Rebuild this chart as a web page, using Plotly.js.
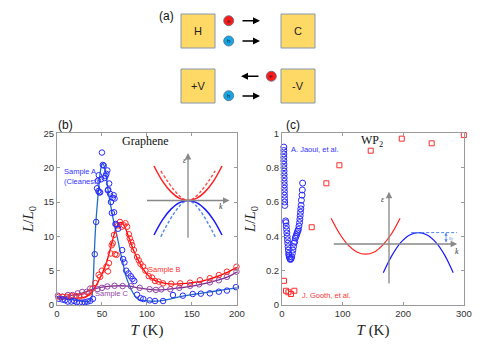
<!DOCTYPE html>
<html>
<head>
<meta charset="utf-8">
<script src="https://cdn.plot.ly/plotly-3.0.1.min.js"></script>
<style>html,body{margin:0;padding:0;background:#fff}#fig{width:491px;height:347px}</style>
</head>
<body>
<div id="fig"></div>
<script>
// (b) graphene: L/L0 vs T, three samples (markers) + fitted curves
const sampleA_T = [2, 6, 9, 12, 16, 19, 22, 25, 28, 31, 34, 37, 40, 42, 43.5, 44.5, 45.5, 46, 46.5, 47, 48, 49, 50, 51, 52, 53, 54, 55, 56, 56.5, 57, 58, 59, 60, 61, 62, 63, 63.5, 64, 65, 66, 68, 72.5, 73.5, 75, 77, 79.5, 82, 84, 86, 89, 93, 96, 103, 109, 118, 129, 140, 151, 160, 170, 180, 189, 199];
const sampleA_L = [0.9, 0.8, 0.7, 0.5, 0.5, 0.6, 0.4, 0.3, 0.35, 0.4, 0.5, 0.6, 0.9, 7.4, 12.1, 17.0, 18.1, 16.6, 18.9, 16.4, 16.4, 18.3, 22.2, 20.4, 20.3, 18.5, 18.8, 19.1, 19.6, 16.7, 16.8, 17.7, 16.2, 15.0, 13.4, 15.6, 16.0, 13.5, 15.5, 11.8, 11.7, 11.1, 8.0, 6.7, 6.2, 5.0, 4.6, 4.2, 3.8, 3.5, 1.5, 1.0, 0.87, 0.68, 0.58, 0.58, 1.45, 1.36, 1.6, 1.65, 1.7, 1.94, 2.1, 2.6];
const fitA_T = [0, 10, 20, 30, 35, 38, 40, 41.5, 43, 45, 47, 49, 51, 53, 55, 57, 60, 63, 65, 68, 70, 73, 76, 80, 84, 88, 92, 100, 110, 120, 130, 140, 150, 160, 170, 180, 190, 200];
const fitA_L = [1.0, 0.9, 0.7, 0.5, 0.5, 0.8, 3, 7.5, 11.5, 15, 18, 20, 20.6, 20, 18.5, 16.5, 14.3, 12.2, 11, 9.3, 8, 6.3, 4.5, 3, 1.9, 1.1, 0.75, 0.6, 0.55, 0.7, 1.0, 1.3, 1.5, 1.7, 1.9, 2.1, 2.3, 2.5];

const sampleB_T = [2, 6, 11, 16, 21, 25, 30, 36, 39.6, 42.6, 46.3, 48, 50, 55, 56.7, 57.8, 59.7, 60.8, 62, 63.4, 64.5, 66.3, 67.8, 70, 72, 74.4, 76.2, 78, 80, 81, 82.5, 83.6, 85.5, 89, 91, 92.8, 95.8, 98.3, 102, 105.7, 109, 113, 118, 127, 137, 148, 159, 170, 180, 189, 199.6];
const sampleB_L = [1.2, 1.2, 1.2, 1.3, 1.3, 1.2, 1.4, 1.8, 2.4, 3.2, 4.4, 4.1, 5.0, 5.6, 4.9, 6.1, 7.5, 8.7, 9.0, 10.2, 7.4, 7.3, 11.6, 12.1, 11.4, 11.6, 11.9, 11.4, 10.3, 9.7, 9.2, 8.7, 8.0, 7.0, 6.5, 6.0, 5.6, 5.0, 4.2, 4.0, 3.5, 3.4, 3.15, 3.1, 3.15, 3.25, 3.6, 3.9, 4.36, 4.85, 5.57];
const fitB_T = [0, 10, 20, 30, 35, 40, 45, 50, 55, 60, 63, 66, 70, 73, 76, 80, 85, 90, 95, 100, 105, 110, 120, 130, 140, 150, 160, 170, 180, 190, 200];
const fitB_L = [1.0, 1.0, 1.0, 1.1, 1.4, 2.2, 3.2, 4.5, 6.2, 8.5, 10, 11.3, 12, 11.9, 11.2, 9.8, 8.0, 6.6, 5.4, 4.5, 3.9, 3.5, 3.15, 3.05, 3.1, 3.25, 3.45, 3.8, 4.25, 4.8, 5.5];

const sampleC_T = [1, 6, 12, 17, 23, 28, 33, 37, 45, 50, 56, 64, 73, 82, 92, 103, 110, 116, 126, 136, 148, 158, 170, 180, 189, 199.6];
const sampleC_L = [1.35, 1.2, 1.45, 1.45, 1.7, 1.9, 1.9, 2.4, 2.3, 2.5, 2.7, 2.8, 2.75, 2.75, 2.5, 2.3, 2.2, 2.28, 2.3, 2.5, 2.8, 3.0, 3.3, 3.6, 4.1, 4.85];
const fitC_T = [0, 10, 20, 30, 40, 50, 60, 70, 80, 90, 100, 110, 120, 130, 140, 150, 160, 170, 180, 190, 200];
const fitC_L = [1.1, 1.25, 1.5, 1.8, 2.3, 2.6, 2.75, 2.8, 2.75, 2.5, 2.3, 2.2, 2.25, 2.4, 2.55, 2.75, 3.0, 3.3, 3.65, 4.1, 4.8];

// (c) WP2
const jaoui_T = [3, 3, 3, 3, 3, 3.2, 3.2, 3.4, 3.4, 3.6, 3.6, 3.8, 3.8, 4, 4, 4.2, 4.4, 4.6,
  6, 6.5, 7, 7.5, 8, 8.5, 9, 9.5, 10, 10.5, 11, 11.5, 12, 13, 14, 15, 16,
  17, 18, 19, 20, 21, 22, 23, 24, 25, 26, 27, 28, 29, 29.5, 30, 30.5, 31, 31.5, 32, 33, 33.5, 34];
const jaoui_L = [0.92, 0.90, 0.88, 0.86, 0.84, 0.82, 0.80, 0.78, 0.76, 0.74, 0.72, 0.70, 0.68, 0.66, 0.64, 0.62, 0.60, 0.58,
  0.49, 0.48, 0.46, 0.44, 0.42, 0.40, 0.38, 0.36, 0.34, 0.32, 0.30, 0.29, 0.28, 0.27, 0.265, 0.27, 0.28,
  0.30, 0.32, 0.34, 0.36, 0.37, 0.39, 0.40, 0.41, 0.42, 0.43, 0.44, 0.46, 0.48, 0.50, 0.52, 0.54, 0.56, 0.58, 0.61, 0.64, 0.67, 0.71];
const gooth_T = [3.3, 6.6, 10.5, 14.9, 20.4, 49, 73.2, 94.7, 146.4, 197.6, 247, 300];
const gooth_L = [0.141, 0.083, 0.074, 0.064, 0.083, 0.453, 0.709, 0.814, 0.899, 0.969, 0.942, 0.990];

// band-structure sketches (schematic k, E units)
const bK = [-1, -0.75, -0.5, -0.25, 0, 0.25, 0.5, 0.75, 1];
const bCond = [1, 0.56, 0.25, 0.06, 0, 0.06, 0.25, 0.56, 1];
const bVal = [-1, -0.56, -0.25, -0.06, 0, -0.06, -0.25, -0.56, -1];
const bConeK = [-0.8, 0, 0.8];
const bConeUp = [0.86, 0, 0.86];
const bConeDn = [-1.05, 0, -1.05];
const cRedK = [-1.93, -1.64, -1.36, -1.07, -0.78, -0.49, -0.21, 0.08, 0.37];
const cRedE = [0.86, 0.335, -0.035, -0.264, -0.34, -0.264, -0.035, 0.335, 0.86];
const cBlueK = [-0.19, 0.10, 0.39, 0.69, 0.98, 1.27, 1.57, 1.86, 2.14];
const cBlueE = [-0.96, -0.38, 0.045, 0.30, 0.38, 0.30, 0.045, -0.38, -0.96];
const cFermiK = [0.74, 2.27];
const cFermiE = [0.38, 0.38];

const W = 491, H = 347;
const X = (px) => px / W;
const Y = (py) => 1 - py / H;

const BLUE = "#2a2aff", RED = "#ff2a2a", PURPLE = "#9446a8";
const AXCOL = "#9a9a9a";
const serif = "Liberation Serif, Times New Roman, serif";
const sans = "Liberation Sans, Arial, sans-serif";

function markers(x, y, color, xa, ya, symbol, size) {
  return { x, y, xaxis: xa, yaxis: ya, type: "scatter", mode: "markers", cliponaxis: false,
    marker: { symbol, size, color, line: { color, width: 1 } }, hoverinfo: "skip" };
}
function curve(x, y, color, xa, ya, width, dash) {
  return { x, y, xaxis: xa, yaxis: ya, type: "scatter", mode: "lines",
    line: { color, width, shape: "spline", dash: dash || "solid" }, hoverinfo: "skip" };
}

const traces = [
  curve(fitC_T, fitC_L, "#7e2f8e", "x", "y", 1.3),
  curve(fitB_T, fitB_L, "#ff0000", "x", "y", 1.3),
  curve(fitA_T, fitA_L, "#1f6fbf", "x", "y", 1.3),
  markers(sampleC_T, sampleC_L, PURPLE, "x", "y", "circle-open", 5.5),
  markers(sampleB_T, sampleB_L, RED, "x", "y", "circle-open", 5.5),
  markers(sampleA_T, sampleA_L, BLUE, "x", "y", "circle-open", 5.5),
  markers(jaoui_T, jaoui_L, BLUE, "x2", "y2", "circle-open", 6),
  markers(gooth_T, gooth_L, RED, "x2", "y2", "square-open", 5),
  // inset (b)
  curve(bConeK, bConeUp, "#ff4d4d", "x3", "y3", 1.4, "3px,2px"),
  curve(bConeK, bConeDn, "#4f86e8", "x3", "y3", 1.4, "3px,2px"),
  curve(bK, bCond, "#ff2020", "x3", "y3", 1.5),
  curve(bK, bVal, "#1a1aff", "x3", "y3", 1.5),
  // inset (c)
  curve(cRedK, cRedE, "#ff2020", "x4", "y4", 1.2),
  curve(cBlueK, cBlueE, "#1a1aff", "x4", "y4", 1.2),
  curve(cFermiK, cFermiE, "#4f86e8", "x4", "y4", 1, "3px,2px"),
];

const mainAxis = {
  showline: true, linecolor: AXCOL, linewidth: 1, mirror: "ticks",
  ticks: "inside", ticklen: 3, tickcolor: AXCOL, showgrid: false, zeroline: false,
  tickfont: { family: sans, size: 9.5, color: "#333" },
};
const hidden = { visible: false, fixedrange: true };

function arrow(x, y, ax, ay, xr, yr, color, extra) {
  return Object.assign({ x, y, ax, ay, xref: xr, yref: yr, axref: xr, ayref: yr, text: "",
    showarrow: true, arrowhead: 2, arrowsize: 1, arrowwidth: 1.3, arrowcolor: color }, extra || {});
}
function label(text, x, y, xr, yr, size, color, family, extra) {
  return Object.assign({ text, x, y, xref: xr, yref: yr, showarrow: false, xanchor: "center", yanchor: "middle",
    font: { size, color, family } }, extra || {});
}
function pxArrow(x0, x1, y) {
  return { x: X(x1), y: Y(y), xref: "paper", yref: "paper", ax: x0 - x1, ay: 0, text: "",
    showarrow: true, arrowhead: 2, arrowsize: 1, arrowwidth: 1.4, arrowcolor: "#000" };
}

// (a) schematic boxes and carriers
const boxes = [["H", 181, 14], ["C", 281, 14], ["+V", 181, 69], ["-V", 281, 69]];
const carriers = [["e", 228.7, 20.7, "#ff1a1a"], ["h", 228.7, 41, "#14a7e8"], ["e", 271.3, 76.3, "#ff1a1a"], ["h", 228.7, 95.7, "#14a7e8"]];
const shapes = [];
const annotations = [];
boxes.forEach(([t, x0, y0]) => {
  shapes.push({ type: "rect", xref: "paper", yref: "paper", x0: X(x0), x1: X(x0 + 34), y0: Y(y0 + 34), y1: Y(y0),
    fillcolor: "#ffd966", line: { color: "#8497b0", width: 1 } });
  annotations.push(label(t, X(x0 + 17), Y(y0 + 17), "paper", "paper", 11, "#222", sans));
});
carriers.forEach(([t, cx, cy, col]) => {
  shapes.push({ type: "circle", xref: "paper", yref: "paper", x0: X(cx - 5), x1: X(cx + 5), y0: Y(cy + 5), y1: Y(cy - 5),
    fillcolor: col, line: { color: "#5a6b80", width: 0.8 } });
  annotations.push(label(t, X(cx), Y(cy), "paper", "paper", 6, "#222", sans));
});
annotations.push(pxArrow(241, 260, 20.7), pxArrow(241, 260, 41), pxArrow(260, 241, 76.3), pxArrow(241, 260, 96));

annotations.push(
  label("(a)", X(166.5), Y(16), "paper", "paper", 12, "#111", sans),
  label("(b)", X(65.5), Y(125), "paper", "paper", 12, "#111", sans),
  label("(c)", X(293), Y(125), "paper", "paper", 12, "#111", sans),
  label("Graphene", 98.9, 23.9, "x", "y", 12, "#111", serif),
  label("Sample A<br>(Cleanest)", 5.5, 18.75, "x", "y", 7.5, "#3333ff", sans, { xanchor: "left", align: "left" }),
  label("Sample B", 119.4, 5.1, "x", "y", 7.5, "#ff3333", sans),
  label("Sample C", 61.7, 1.7, "x", "y", 7.5, "#9446a8", sans),
  label("WP<sub>2</sub>", 148, 0.955, "x2", "y2", 12, "#111", serif),
  label("A. Jaoui, et al.", 12, 0.905, "x2", "y2", 7.5, "#3333ff", sans, { xanchor: "left" }),
  label("J. Gooth, et al.", 29.7, 0.054, "x2", "y2", 7.5, "#ff3333", sans, { xanchor: "left" }),
  // inset axes
  arrow(0, 1.38, 0, -1.12, "x3", "y3", "#888"),
  arrow(1.22, 0, -1.25, 0, "x3", "y3", "#888"),
  label("<i>ε</i>", -0.1, 1.17, "x3", "y3", 8, "#333", serif),
  label("<i>k</i>", 0.96, -0.18, "x3", "y3", 8, "#333", serif),
  arrow(0, 1.74, 0, -1.37, "x4", "y4", "#888"),
  arrow(2.27, 0, -1.89, 0, "x4", "y4", "#888"),
  label("<i>ε</i>", -0.21, 1.49, "x4", "y4", 8, "#333", serif),
  label("<i>k</i>", 2.26, -0.26, "x4", "y4", 8, "#333", serif),
  arrow(1.9, 0.38, 1.9, 0, "x4", "y4", "#4f86e8", { arrowside: "end+start", arrowwidth: 0.8, arrowsize: 0.8 }),
  label("ε<sub>F</sub>", 2.08, 0.2, "x4", "y4", 5.5, "#4f86e8", serif),
);

const layout = {
  width: W, height: H,
  margin: { l: 0, r: 0, t: 0, b: 0 },
  paper_bgcolor: "#fff", plot_bgcolor: "rgba(0,0,0,0)",
  showlegend: false,
  xaxis: Object.assign({}, mainAxis, { domain: [X(57), X(237)], range: [0, 200.2], tickvals: [0, 50, 100, 150, 200],
    title: { text: "<i>T</i> (K)", font: { family: serif, size: 15, color: "#222" }, standoff: 6 } }),
  yaxis: Object.assign({}, mainAxis, { domain: [Y(305), Y(133)], range: [0, 25.05], tickvals: [0, 5, 10, 15, 20, 25],
    title: { text: "<i>L</i>/<i>L</i><sub>0</sub>", font: { family: serif, size: 15, color: "#222" }, standoff: 6 } }),
  xaxis2: Object.assign({}, mainAxis, { anchor: "y2", domain: [X(282), X(464)], range: [0, 300.3], tickvals: [0, 100, 200, 300],
    title: { text: "<i>T</i> (K)", font: { family: serif, size: 15, color: "#222" }, standoff: 6 } }),
  yaxis2: Object.assign({}, mainAxis, { anchor: "x2", domain: [Y(305), Y(133)], range: [0, 1.002], tickvals: [0, 0.2, 0.4, 0.6, 0.8, 1],
    title: { text: "<i>L</i>/<i>L</i><sub>0</sub>", font: { family: serif, size: 15, color: "#222" }, standoff: 6 } }),
  xaxis3: Object.assign({}, hidden, { anchor: "y3", domain: [X(144), X(232)], range: [-1.294, 1.294] }),
  yaxis3: Object.assign({}, hidden, { anchor: "x3", domain: [Y(241), Y(150)], range: [-1.174, 1.464] }),
  xaxis4: Object.assign({}, hidden, { anchor: "y4", domain: [X(328), X(462)], range: [-2.033, 2.433] }),
  yaxis4: Object.assign({}, hidden, { anchor: "x4", domain: [Y(290), Y(188)], range: [-1.533, 1.867] }),
  shapes, annotations,
};

Plotly.newPlot("fig", traces, layout, { displayModeBar: false, staticPlot: true });
</script>
</body>
</html>
